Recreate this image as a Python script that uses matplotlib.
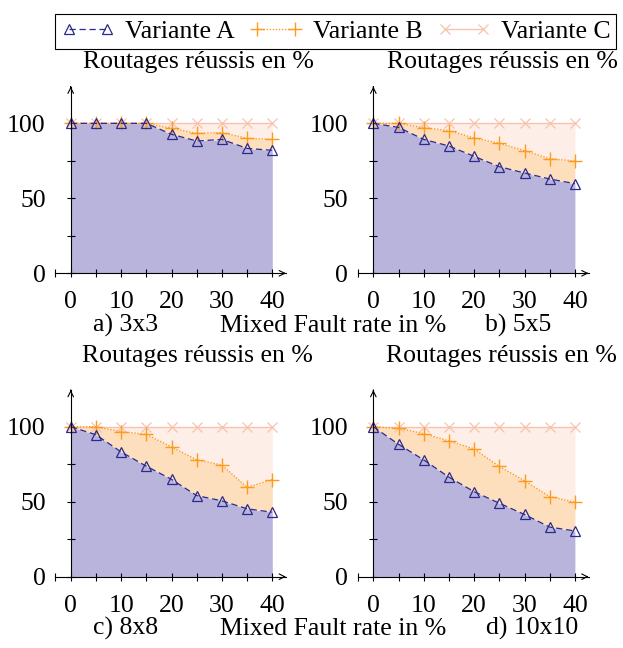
import matplotlib
matplotlib.use("Agg")
import matplotlib.pyplot as plt

plt.rcParams["font.family"] = ["Liberation Serif", "DejaVu Serif"]

# ------------------------------------------------------------------
# Data
# ------------------------------------------------------------------
fault_rate = [0, 5, 10, 15, 20, 25, 30, 35, 40]

panels = ["a) 3x3", "b) 5x5", "c) 8x8", "d) 10x10"]

var_a = {
    "a) 3x3": [100, 100, 100, 100, 92.7, 88.2, 89.3, 83.3, 82.0],
    "b) 5x5": [100, 97.3, 89.3, 84.9, 78.0, 71.1, 66.9, 62.9, 59.8],
    "c) 8x8": [100, 94.7, 83.2, 73.7, 64.9, 54.1, 50.6, 45.3, 43.0],
    "d) 10x10": [100, 88.3, 77.9, 66.4, 56.7, 49.0, 41.5, 33.1, 30.5],
}
var_b = {
    "a) 3x3": [100, 100, 100, 100, 96.7, 93.3, 93.8, 90.0, 89.3],
    "b) 5x5": [100, 100, 97.1, 95.1, 90.2, 86.7, 81.8, 76.4, 74.9],
    "c) 8x8": [100, 100, 96.7, 94.9, 86.5, 77.9, 74.4, 59.6, 64.7],
    "d) 10x10": [100, 98.9, 95.4, 90.5, 85.2, 73.5, 64.0, 53.4, 49.7],
}
var_c = [100, 100, 100, 100, 100, 100, 100, 100, 100]

x_ticks = [0, 5, 10, 15, 20, 25, 30, 35, 40]
x_labels = ["0", "", "10", "", "20", "", "30", "", "40"]
y_ticks = [0, 25, 50, 75, 100]
y_labels = ["0", "", "50", "", "100"]

# ------------------------------------------------------------------
# Style
# ------------------------------------------------------------------
col_a = "#2b2a8c"
col_b = "#ff9a1a"
col_c = "#f7c2ae"
fill_a = "#b8b4dc"
fill_b = "#fddfbd"
fill_c = "#fdeee8"
fs = 18.5

W, H = 623, 648
fig = plt.figure(figsize=(W / 100, H / 100), dpi=100)

xmin, xmax = -3.1, 42.7
ymin, ymax = 0, 124.5

# axes boxes in pixels: (left, y of zero line from top)
boxes = [(55.1, 273.3), (357.7, 273.3), (55.1, 576.7), (357.7, 576.7)]
ax_w, ax_h = 230.8, 186.7

handles = None
for name, (lx, y0) in zip(panels, boxes):
    ax = fig.add_axes([lx / W, (H - y0) / H, ax_w / W, ax_h / H])
    ax.set_xlim(xmin, xmax)
    ax.set_ylim(ymin, ymax)

    a_vals = var_a[name]
    b_vals = var_b[name]

    ax.fill_between(fault_rate, 0, a_vals, color=fill_a, lw=0, zorder=1)
    ax.fill_between(fault_rate, a_vals, b_vals, color=fill_b, lw=0, zorder=1)
    ax.fill_between(fault_rate, b_vals, var_c, color=fill_c, lw=0, zorder=1)

    lc, = ax.plot(fault_rate, var_c, color=col_c, lw=1.0, marker="x",
                  markersize=7, markeredgewidth=0.9, zorder=3, label="Variante C")
    lb, = ax.plot(fault_rate, b_vals, color=col_b, lw=1.0, ls=(0, (1, 1.2)),
                  marker="+", markersize=10, markeredgewidth=1.0, zorder=4,
                  label="Variante B")
    la, = ax.plot(fault_rate, a_vals, color=col_a, lw=0.9, ls=(0, (5, 3)),
                  marker="^", markersize=7, markerfacecolor="none",
                  markeredgewidth=0.9, zorder=5, label="Variante A")
    handles = [la, lb, lc]

    # axis lines through the origin
    for side in ["top", "right"]:
        ax.spines[side].set_visible(False)
    ax.spines["left"].set_position(("data", 0))
    ax.spines["bottom"].set_position(("data", 0))
    ax.spines["left"].set_zorder(6)
    ax.spines["bottom"].set_zorder(6)
    ax.annotate("", xy=(xmax, 0), xytext=(xmax - 1, 0),
                arrowprops=dict(arrowstyle="->", lw=0.8, color="black"),
                annotation_clip=False)
    ax.annotate("", xy=(0, ymax), xytext=(0, ymax - 2),
                arrowprops=dict(arrowstyle="->", lw=0.8, color="black"),
                annotation_clip=False)

    ax.set_xticks([xmin] + x_ticks)
    ax.set_xticklabels([""] + x_labels)
    ax.set_yticks(y_ticks)
    ax.set_yticklabels(y_labels)
    ax.tick_params(axis="both", direction="inout", length=6, width=0.8,
                   labelsize=fs)
    ax.tick_params(axis="x", pad=10)
    ax.tick_params(axis="y", pad=15)
    ax.patch.set_alpha(0)

# ------------------------------------------------------------------
# Texts
# ------------------------------------------------------------------
for tx, ty in [(83, 68), (387, 68), (82, 362), (386, 362)]:
    fig.text(tx / W, 1 - ty / H, "Routages réussis en %", fontsize=fs,
             va="baseline", ha="left")

for name, (tx, ty) in zip(panels, [(93, 332), (485, 332), (93, 635), (486, 635)]):
    fig.text(tx / W, 1 - ty / H, name, fontsize=fs, va="baseline", ha="left")

for ty in [332, 635]:
    fig.text(220 / W, 1 - ty / H, "Mixed Fault rate in %", fontsize=fs,
             va="baseline", ha="left")

leg = fig.legend(handles=handles, loc="center",
                 bbox_to_anchor=((54 + 617.7) / 2 / W, 1 - 31.5 / H),
                 ncol=3, fontsize=fs, numpoints=2, handlelength=2.1,
                 handletextpad=0.4, columnspacing=0.55, borderpad=0.22,
                 fancybox=False, framealpha=1, edgecolor="black")
leg.get_frame().set_linewidth(0.8)

plt.savefig("out.png", dpi=100)
plt.close()
